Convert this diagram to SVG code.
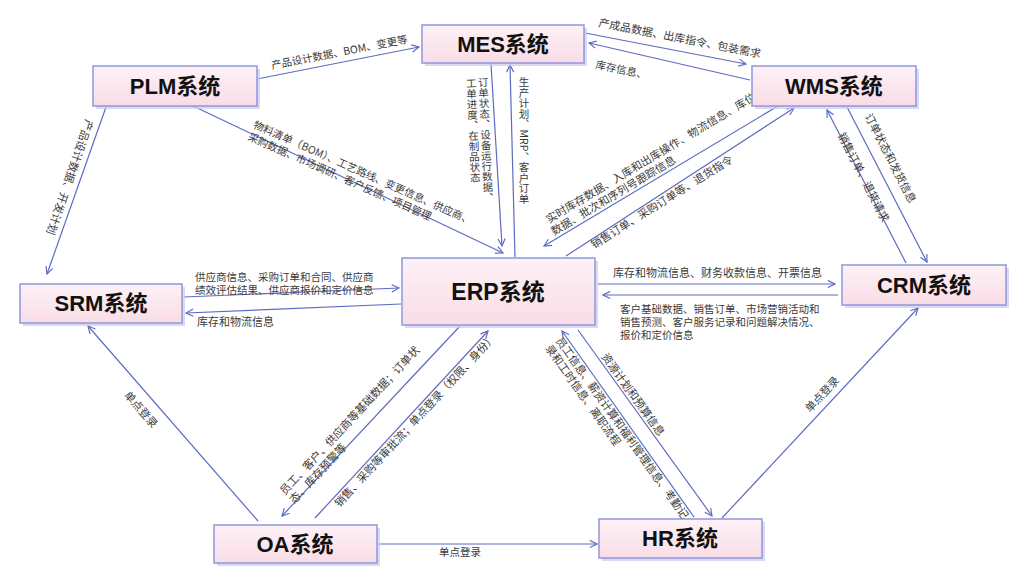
<svg xmlns="http://www.w3.org/2000/svg" width="1024" height="586" viewBox="0 0 1024 586">
<defs>
<style>
.box{fill:url(#g);stroke:#8f97dc;stroke-width:1.5}
.sh{fill:#c9cdee;opacity:.75}
.nt{font-family:"Liberation Sans","Noto Sans CJK SC",sans-serif;font-weight:bold;font-size:22px;fill:#111;text-anchor:middle}
.c{fill:none;stroke:#5d6bc2;stroke-width:1.2;marker-end:url(#a)}
.l{font-family:"Noto Sans CJK SC","Liberation Sans",sans-serif;font-size:10.5px;fill:#3a3a3a}
.m{text-anchor:middle}
.v{writing-mode:vertical-rl}
</style>
<linearGradient id="g" x1="0" y1="0" x2="0" y2="1">
<stop offset="0" stop-color="#fdf2f6"/>
<stop offset="1" stop-color="#f9dce6"/>
</linearGradient>
<marker id="a" viewBox="0 0 10 10" refX="9" refY="5" markerWidth="9" markerHeight="9" markerUnits="userSpaceOnUse" orient="auto">
<path d="M1,1 L9,5 L1,9" fill="none" stroke="#5d6bc2" stroke-width="1.3"/>
</marker>
</defs>
<rect width="1024" height="586" fill="#ffffff"/>

<g id="connectors">
<path class="c" d="M257,79 L419,47"/>
<path class="c" d="M585,33 L746,64"/>
<path class="c" d="M750,80 L589,43"/>
<path class="c" d="M491,64 L502,246"/>
<path class="c" d="M515,257 L510,65"/>
<path class="c" d="M193,106 L503,253"/>
<path class="c" d="M778,106 L544,246"/>
<path class="c" d="M566,256 L794,108"/>
<path class="c" d="M906,263 L827,110"/>
<path class="c" d="M847,107 L927,262"/>
<path class="c" d="M106,107 L47,274"/>
<path class="c" d="M184,297 L399,288"/>
<path class="c" d="M401,304 L186,313"/>
<path class="c" d="M598,284 L835,284"/>
<path class="c" d="M838,295 L603,295"/>
<path class="c" d="M460,326 L282,516"/>
<path class="c" d="M315,518 L488,331"/>
<path class="c" d="M694,517 L562,331"/>
<path class="c" d="M578,330 L712,516"/>
<path class="c" d="M258,521 L88,326"/>
<path class="c" d="M378,544 L597,544"/>
<path class="c" d="M722,518 L918,308"/>
</g>

<g id="labels">
<text class="l m" transform="translate(340,56) rotate(-11)">产品设计数据、BOM、变更等</text>
<text class="l m" style="font-size:11px" transform="translate(679,42) rotate(11)">产成品数据、出库指令、包装需求</text>
<text class="l" transform="translate(595,68) rotate(12)">库存信息、</text>
<text class="l v" transform="translate(483,77) rotate(-2.5)" x="0" y="0">订单状态、设备运行数据、</text>
<text class="l v" transform="translate(471,78) rotate(-2.5)" x="0" y="0">工单进度、在制品状态</text>
<text class="l v" x="524" y="77">生产计划、MRP、客户订单</text>
<g transform="translate(250,133) rotate(24)">
<text class="l" x="0" y="-6">物料清单（BOM）、工艺路线、变更信息、供应商、</text>
<text class="l" x="0" y="7">采购数据、市场调研、客户反馈、项目管理</text>
</g>
<g transform="translate(556,239) rotate(-30.9)">
<text class="l" style="font-size:11px" x="2" y="-17">实时库存数据、入库和出库操作、物流信息、库位</text>
<text class="l" style="font-size:11px" x="0" y="-4">数据、批次和序列号跟踪信息</text>
</g>
<text class="l" style="font-size:11px" transform="translate(594,249) rotate(-32)">销售订单、采购订单等、退货指令</text>
<text class="l m" style="font-size:11px" transform="translate(860,179) rotate(63)">销售订单、退货请求</text>
<text class="l m" style="font-size:11px" transform="translate(887,160) rotate(63)">订单状态和发货信息</text>
<text class="l m" style="font-size:11px" transform="translate(66,176) rotate(109)">产品设计数据、开发计划</text>
<text class="l" x="195" y="281">供应商信息、采购订单和合同、供应商</text>
<text class="l" x="195" y="294">绩效评估结果、供应商报价和定价信息</text>
<text class="l" style="font-size:11px" x="197" y="326">库存和物流信息</text>
<text class="l" style="font-size:11px" x="613" y="277">库存和物流信息、财务收款信息、开票信息</text>
<text class="l" x="620" y="313">客户基础数据、销售订单、市场营销活动和</text>
<text class="l" x="620" y="326">销售预测、客户服务记录和问题解决情况、</text>
<text class="l" x="620" y="339">报价和定价信息</text>
<g transform="translate(282,516) rotate(-46.9)">
<text class="l" style="font-size:11px" x="17" y="-12">员工、客户、供应商等基础数据；订单状</text>
<text class="l" style="font-size:11px" x="17" y="1">态、库存预警等</text>
</g>
<text class="l" style="font-size:11px" transform="translate(315,518) rotate(-47.2)" x="24" y="11">销售、采购等审批流；单点登录（权限、身份）</text>
<g transform="translate(562,331) rotate(54.6)">
<text class="l" style="font-size:11px" x="4" y="11">员工信息、薪资计算和福利管理信息、考勤记</text>
<text class="l" style="font-size:11px" x="4" y="24">录和工时信息、离职流程</text>
</g>
<text class="l" style="font-size:11px" transform="translate(578,330) rotate(54.2)" x="35" y="-3">资源计划和预算信息</text>
<text class="l m" style="font-size:11px" transform="translate(138,412) rotate(49)">单点登录</text>
<text class="l m" x="460" y="556">单点登录</text>
<text class="l m" style="font-size:11px" transform="translate(825,397) rotate(-47)">单点登录</text>
</g>

<g id="node-plm">
<rect class="sh" x="96" y="69" width="164" height="40"/>
<rect class="box" x="93" y="66" width="164" height="40"/>
<text class="nt" x="175" y="94">PLM系统</text>
</g>
<g id="node-mes">
<rect class="sh" x="425" y="28" width="162" height="38"/>
<rect class="box" x="422" y="25" width="162" height="38"/>
<text class="nt" x="503" y="52">MES系统</text>
</g>
<g id="node-wms">
<rect class="sh" x="755" y="69" width="164" height="40"/>
<rect class="box" x="752" y="66" width="164" height="40"/>
<text class="nt" x="834" y="94">WMS系统</text>
</g>
<g id="node-erp">
<rect class="sh" x="405" y="261" width="193" height="67"/>
<rect class="box" x="402" y="258" width="193" height="67"/>
<text class="nt" style="font-size:23px" x="498" y="300">ERP系统</text>
</g>
<g id="node-srm">
<rect class="sh" x="23" y="287" width="162" height="39"/>
<rect class="box" x="20" y="284" width="162" height="39"/>
<text class="nt" x="101" y="311">SRM系统</text>
</g>
<g id="node-crm">
<rect class="sh" x="845" y="268" width="164" height="40"/>
<rect class="box" x="842" y="265" width="164" height="40"/>
<text class="nt" x="924" y="293">CRM系统</text>
</g>
<g id="node-oa">
<rect class="sh" x="217" y="528" width="163" height="38"/>
<rect class="box" x="214" y="525" width="163" height="38"/>
<text class="nt" x="295" y="552">OA系统</text>
</g>
<g id="node-hr">
<rect class="sh" x="602" y="522" width="163" height="39"/>
<rect class="box" x="599" y="519" width="163" height="39"/>
<text class="nt" x="680" y="546">HR系统</text>
</g>
</svg>
